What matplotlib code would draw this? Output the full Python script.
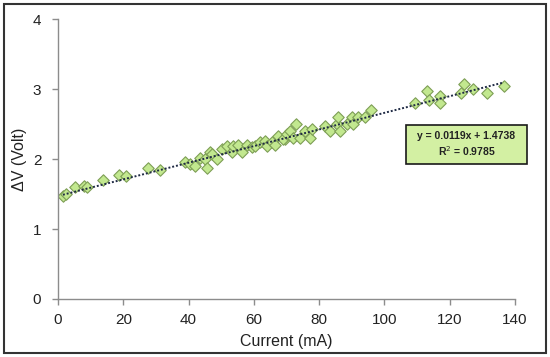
import numpy as np
import matplotlib
matplotlib.use('Agg')
import matplotlib.pyplot as plt
from matplotlib.patches import Rectangle

plt.rcParams['font.family'] = ['Liberation Sans', 'DejaVu Sans']

current_ma = [1.5, 2.5, 5.2, 8.0, 9.0, 13.8, 18.7, 20.8, 27.6, 31.2,
              38.9, 40.4, 42.0, 43.5, 45.0, 45.6, 46.6, 47.1, 48.7, 50.2,
              51.7, 53.3, 53.6, 55.2, 56.4, 57.9, 59.4, 60.4, 61.9, 63.4,
              64.0, 65.6, 66.5, 67.4, 69.5, 69.0, 70.0, 71.0, 72.1, 72.9,
              74.1, 75.7, 77.2, 77.8, 81.8, 83.3, 85.5, 85.8, 86.4, 88.5,
              90.1, 90.4, 91.9, 94.0, 95.9, 109.4, 113.0, 113.7, 117.0, 117.0,
              123.5, 124.4, 127.1, 131.4, 136.6]
delta_v = [1.48, 1.50, 1.60, 1.61, 1.60, 1.70, 1.78, 1.76, 1.87, 1.84,
           1.96, 1.93, 1.90, 2.02, 2.00, 1.87, 2.11, 2.07, 2.00, 2.14,
           2.19, 2.10, 2.19, 2.21, 2.11, 2.21, 2.17, 2.19, 2.24, 2.26,
           2.19, 2.24, 2.21, 2.33, 2.29, 2.29, 2.36, 2.40, 2.31, 2.50,
           2.31, 2.40, 2.31, 2.43, 2.47, 2.40, 2.50, 2.60, 2.40, 2.50,
           2.60, 2.50, 2.60, 2.60, 2.71, 2.81, 2.98, 2.85, 2.91, 2.81,
           2.95, 3.08, 3.00, 2.95, 3.05]

# Linear trend as reported on the chart
slope = 0.0119
intercept = 1.4738
r_squared = 0.9785

fig = plt.figure(figsize=(5.5, 3.57), dpi=100)
ax = fig.add_axes([0.1055, 0.1625, 0.8309, 0.783])

x = np.array(current_ma)
ax.scatter(x, delta_v, marker='D', s=34, facecolor='#c2e88f',
           edgecolor='#7d9e55', linewidth=0.8, zorder=2)

xt = np.array([x.min(), x.max()])
ax.plot(xt, slope * xt + intercept, linestyle=(0, (1, 1)), color='#1f2a44',
        linewidth=1.4, zorder=3)

ax.set_xlim(0, 140)
ax.set_ylim(0, 4)
ax.set_xticks(range(0, 141, 20))
ax.set_yticks(range(0, 5))
for s in ['top', 'right']:
    ax.spines[s].set_visible(False)
for s in ['left', 'bottom']:
    ax.spines[s].set_color('#8c8c8c')
    ax.spines[s].set_linewidth(1.0)
ax.tick_params(colors='#8c8c8c', labelcolor='#222222', labelsize=11,
               length=4, width=1.0)
ax.tick_params(axis='y', pad=8)
ax.tick_params(axis='x', pad=6)
ax.set_xlabel('Current (mA)', fontsize=11.5, color='#222222', labelpad=5)
ax.set_ylabel('ΔV (Volt)', fontsize=11.5, color='#222222', labelpad=4)

eq = 'y = {:.4f}x + {:.4f}\nR$^2$ = {:.4f}'.format(slope, intercept, r_squared)
box = Rectangle((406 / 550, 1 - 164 / 357), 121 / 550, 39 / 357,
                transform=fig.transFigure, facecolor='#d3f0a3',
                edgecolor='#1a1a1a', linewidth=1.2, zorder=5)
fig.patches.append(box)
fig.text(466.5 / 550, 1 - 144.5 / 357, eq, ha='center', va='center',
         fontsize=7.5, fontweight='bold', color='#222222',
         linespacing=1.3, zorder=6)

border = Rectangle((4 / 550, 4 / 357), 542 / 550, 349 / 357,
                   transform=fig.transFigure, facecolor='none',
                   edgecolor='#333333', linewidth=1.5)
fig.patches.append(border)

fig.savefig('out.png', dpi=100)
